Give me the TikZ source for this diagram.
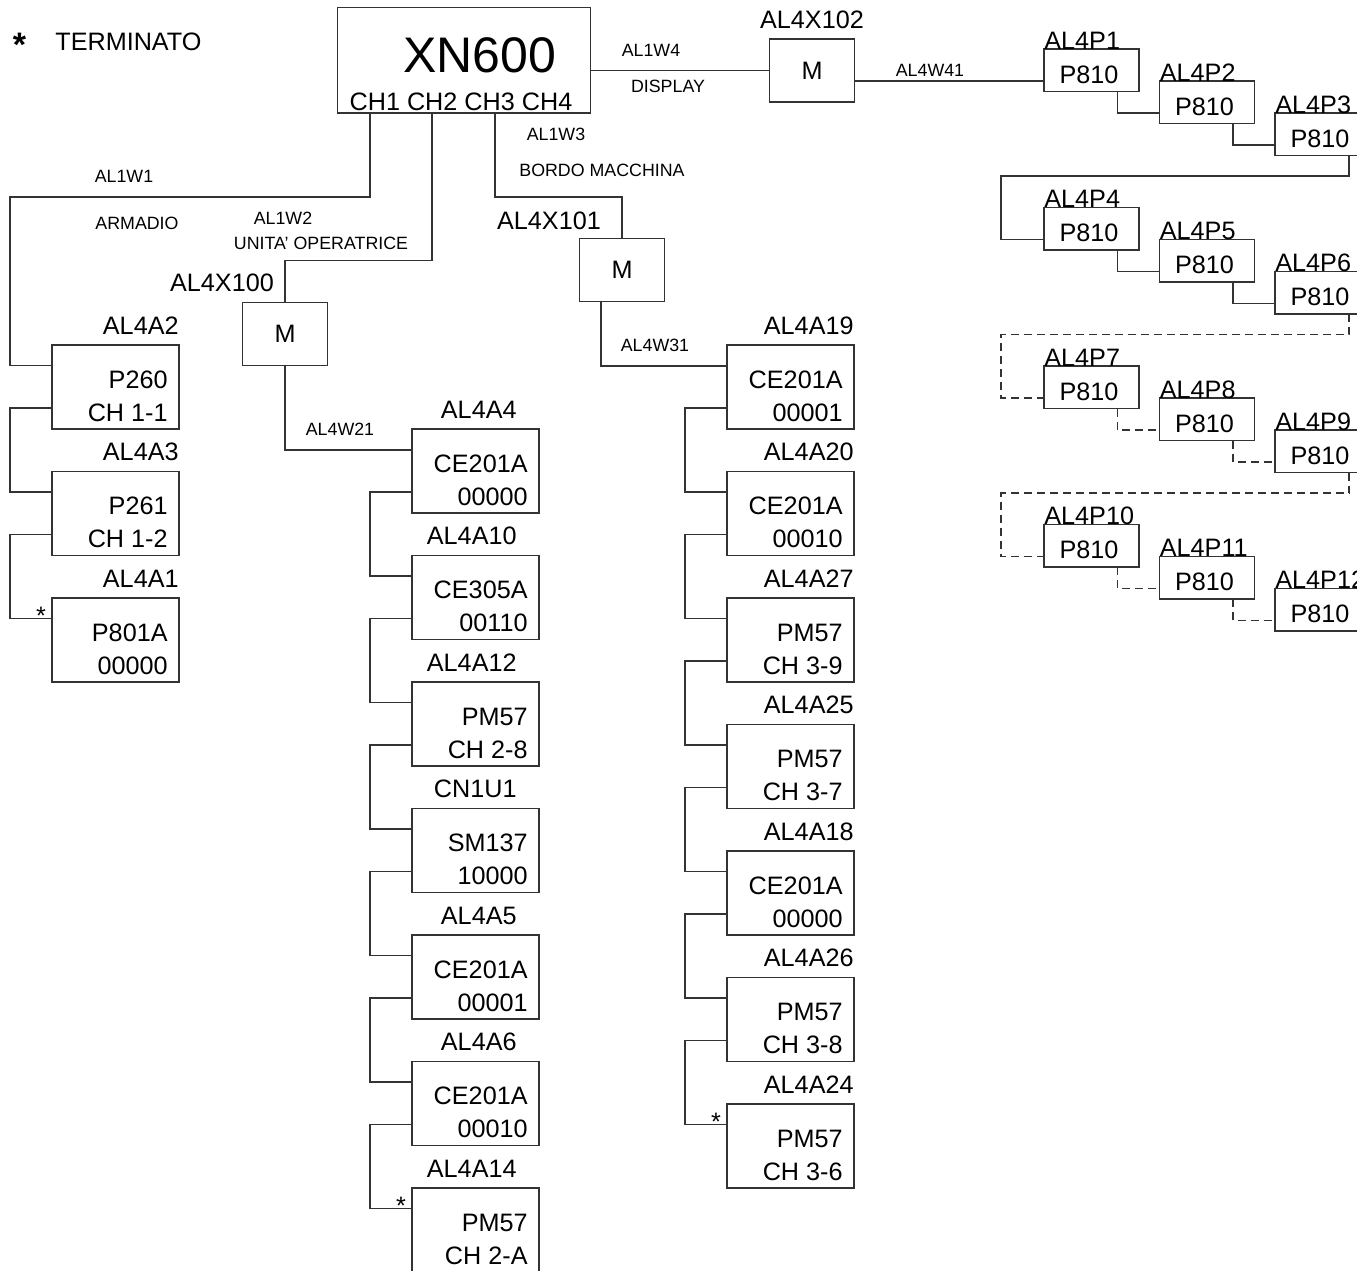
\documentclass[tikz,border=0pt]{standalone}
\usepackage{fontspec}
\setmainfont{Liberation Sans}
\usetikzlibrary{calc}
% device box in a vertical chain: name, x, y (top left), label, line 1, line 2, label shift
\newcommand\devc[7]{%
  \node[dev] (#1) at (#2,#3) {};
  \node[big, anchor=base east] (#1-lab) at ($(#1.north east)+(-#7,-11)$) {#4};
  \node[big, anchor=base east] (#1-ta) at ($(#1.north east)+(-11,43)$) {#5};
  \node[big, anchor=base east] (#1-tb) at ($(#1.north east)+(-11,76)$) {#6};
}
% P810 panel: name, x, y (top left), label
\newcommand\pdev[4]{%
  \node[pbox] (#1) at (#2,#3) {};
  \node[big, anchor=base west] (#1-lab) at (#1.north west) {#4};
  \node[big, anchor=base] (#1-t) at ($(#1.north west)+(45,34)$) {P810};
}
% chain link between two devices of a column
\newcommand\chainA[2]{%
  \draw[wire] ($(#1.north west)+(0,63)$) -- ++(-42,0) |- ($(#2.north west)+(0,20.5)$);
}
% chain link between two panels of a row
\newcommand\chainP[3]{%
  \draw[#3] ($(#1.south west)+(73.5,0)$) |- ($(#2.north west)+(0,32)$);
}
% link from the last panel of a row to the first of the next
\newcommand\chainR[3]{%
  \draw[#3] ($(#1.south west)+(74,0)$) -- ++(0,20.5) -| ($(#2.north west)+(-43,32)$) -- ($(#2.north west)+(0,32)$);
}
\newcommand\starmark[1]{%
  \node[big, anchor=base] (#1-star) at ($(#1.north west)+(-11,26)$) {*};
}
\begin{document}
\begin{tikzpicture}[x=0.5pt,y=-0.5pt,
  wire/.style={line width=0.6pt, draw=black!80},
  dwire/.style={wire, dash pattern=on 4pt off 2.5pt},
  dev/.style={draw=black!80, line width=0.6pt, minimum width=63.5pt, minimum height=42pt, inner sep=0pt, outer sep=0pt, anchor=north west},
  pbox/.style={dev, minimum width=47.5pt, minimum height=21.25pt},
  mbox/.style={dev, minimum width=42.5pt, minimum height=31.5pt, font=\fontsize{12.6}{14}\selectfont},
  big/.style={font=\fontsize{12.6}{14}\selectfont, inner sep=0pt},
  small/.style={font=\fontsize{8.9}{10}\selectfont, inner sep=0pt},
]
\useasboundingbox (0,0) rectangle (1357,1271);
\clip (0,0) rectangle (1357,1271);

% legend
\node[font=\fontsize{17}{20}\selectfont\bfseries, inner sep=0pt, anchor=base] (legstar) at (19.5,56) {*};
\node[big, anchor=west] (legtxt) at (55,42) {TERMINATO};

% central unit
\node[dev, minimum width=126.5pt, minimum height=52.75pt] (xn) at (337.5,7.5) {};
\node[font=\fontsize{25}{30}\selectfont, inner sep=0pt, anchor=base] (xn-t) at (479.5,72) {XN600};
\node[big, anchor=base] (xn-ch) at (461,110) {CH1 CH2 CH3 CH4};

% M boxes
\node[mbox] (mx102) at (769.5,39) {M};
\node[mbox] (mx101) at (579.5,238.5) {M};
\node[mbox] (mx100) at (242.5,302.5) {M};
\node[big] (mx102-lab) at (812,20) {AL4X102};
\node[big] (mx101-lab) at (549,221) {AL4X101};
\node[big] (mx100-lab) at (222,283) {AL4X100};

% cable labels
\node[small] (w1) at (124,176) {AL1W1};
\node[small] (w1b) at (137,223) {ARMADIO};
\node[small] (w2) at (283,218) {AL1W2};
\node[small] (w2b) at (321,243.5) {UNITA' OPERATRICE};
\node[small] (w3) at (556,134.5) {AL1W3};
\node[small] (w3b) at (602,170) {BORDO MACCHINA};
\node[small] (w4) at (651,50.5) {AL1W4};
\node[small] (w4b) at (668,86) {DISPLAY};
\node[small] (w41) at (930,70.5) {AL4W41};
\node[small] (w21) at (340,429) {AL4W21};
\node[small] (w31) at (655,345) {AL4W31};

% left column
\devc{a2}{52}{345}{AL4A2}{P260}{CH 1-1}{0}
\devc{a3}{52}{471.5}{AL4A3}{P261}{CH 1-2}{0}
\devc{a1}{52}{598}{AL4A1}{P801A}{00000}{0}
\starmark{a1}

% middle column
\devc{a4}{412}{429}{AL4A4}{CE201A}{00000}{22}
\devc{a10}{412}{555.5}{AL4A10}{CE305A}{00110}{22}
\devc{a12}{412}{682}{AL4A12}{PM57}{CH 2-8}{22}
\devc{cn}{412}{808.5}{CN1U1}{SM137}{10000}{22}
\devc{a5}{412}{935}{AL4A5}{CE201A}{00001}{22}
\devc{a6}{412}{1061.5}{AL4A6}{CE201A}{00010}{22}
\devc{a14}{412}{1188}{AL4A14}{PM57}{CH 2-A}{22}
\starmark{a14}

% right column
\devc{a19}{727}{345}{AL4A19}{CE201A}{00001}{0}
\devc{a20}{727}{471.5}{AL4A20}{CE201A}{00010}{0}
\devc{a27}{727}{598}{AL4A27}{PM57}{CH 3-9}{0}
\devc{a25}{727}{724.5}{AL4A25}{PM57}{CH 3-7}{0}
\devc{a18}{727}{851}{AL4A18}{CE201A}{00000}{0}
\devc{a26}{727}{977.5}{AL4A26}{PM57}{CH 3-8}{0}
\devc{a24}{727}{1104}{AL4A24}{PM57}{CH 3-6}{0}
\starmark{a24}

% panels
\pdev{p1}{1044}{49}{AL4P1}
\pdev{p2}{1159.5}{81}{AL4P2}
\pdev{p3}{1275}{113}{AL4P3}
\pdev{p4}{1044}{207.5}{AL4P4}
\pdev{p5}{1159.5}{239.5}{AL4P5}
\pdev{p6}{1275}{271.5}{AL4P6}
\pdev{p7}{1044}{366}{AL4P7}
\pdev{p8}{1159.5}{398}{AL4P8}
\pdev{p9}{1275}{430}{AL4P9}
\pdev{p10}{1044}{524.5}{AL4P10}
\pdev{p11}{1159.5}{556.5}{AL4P11}
\pdev{p12}{1275}{588.5}{AL4P12}

% bend points and entry point of the main cables
\coordinate (bend1) at (10,197);
\coordinate (bend2) at (285,260.5);
\coordinate (bend3) at (622,197);
\coordinate (p1in) at ($(p1.north west)+(0,32)$);

% main cables
\draw[wire] ($(xn.south west)+(32.5,0)$) |- (bend1) |- ($(a2.north west)+(0,20.5)$);
\draw[wire] ($(xn.south west)+(94.5,0)$) |- (bend2) -- (mx100.north);
\draw[wire] ($(xn.south west)+(157.5,0)$) |- (bend3) -- (mx101.north);
\draw[wire] (xn.east |- mx102.west) -- (mx102.west);
\draw[wire] (mx102.east |- p1in) -- (p1in);
\draw[wire] (mx100.south) |- ($(a4.north west)+(0,21)$);
\draw[wire] ($(mx101.south west)+(21.5,0)$) |- ($(a19.north west)+(0,21)$);

% column chains
\chainA{a2}{a3}
\chainA{a3}{a1}
\chainA{a4}{a10}
\chainA{a10}{a12}
\chainA{a12}{cn}
\chainA{cn}{a5}
\chainA{a5}{a6}
\chainA{a6}{a14}
\chainA{a19}{a20}
\chainA{a20}{a27}
\chainA{a27}{a25}
\chainA{a25}{a18}
\chainA{a18}{a26}
\chainA{a26}{a24}

% panel chains
\chainP{p1}{p2}{wire}
\chainP{p2}{p3}{wire}
\chainR{p3}{p4}{wire}
\chainP{p4}{p5}{wire}
\chainP{p5}{p6}{wire}
\chainR{p6}{p7}{dwire}
\chainP{p7}{p8}{dwire}
\chainP{p8}{p9}{dwire}
\chainR{p9}{p10}{dwire}
\chainP{p10}{p11}{dwire}
\chainP{p11}{p12}{dwire}
\end{tikzpicture}
\end{document}
